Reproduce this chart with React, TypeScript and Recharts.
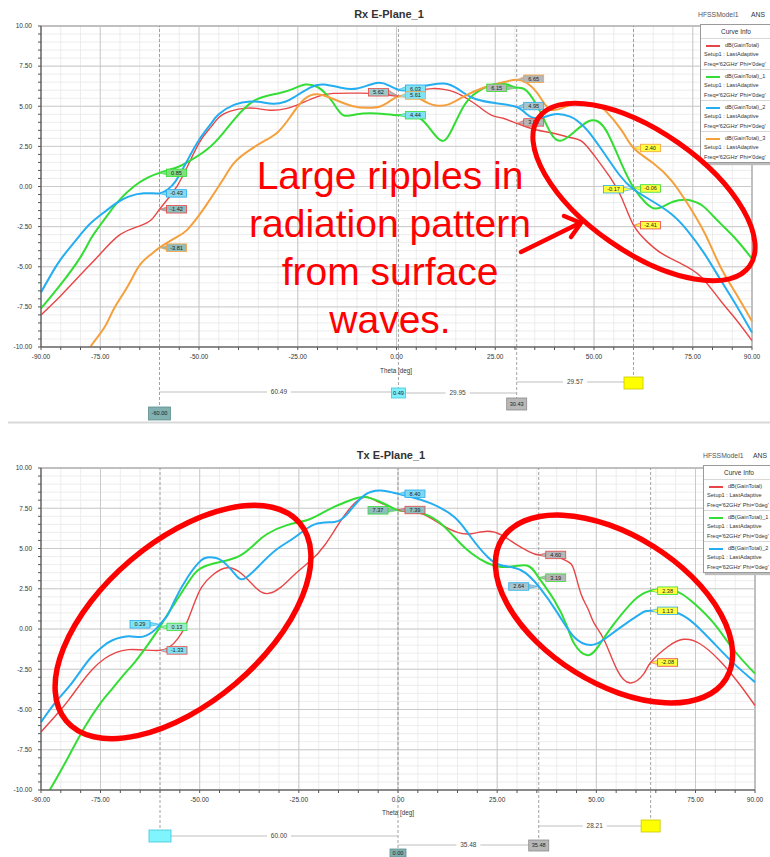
import React from 'react';
import {
  LineChart,
  Line,
  XAxis,
  YAxis,
  CartesianGrid,
  ReferenceLine,
  ReferenceDot,
  ReferenceArea,
  Legend,
} from 'recharts';

const FONT = '"Liberation Sans", Arial, Helvetica, sans-serif';

// ---------- axis ticks ----------
const thetaTicks = [-90, -85, -80, -75, -70, -65, -60, -55, -50, -45, -40, -35, -30, -25, -20, -15, -10, -5, 0, 5, 10, 15, 20, 25, 30, 35, 40, 45, 50, 55, 60, 65, 70, 75, 80, 85, 90];
const thetaTickLabels = [-90, -75, -50, -25, 0, 25, 50, 75, 90];
const thetaMajorGrid = [-75, -50, -25, 0, 25, 50, 75];
const gainTicks = [-10, -9.5, -9, -8.5, -8, -7.5, -7, -6.5, -6, -5.5, -5, -4.5, -4, -3.5, -3, -2.5, -2, -1.5, -1, -0.5, 0, 0.5, 1, 1.5, 2, 2.5, 3, 3.5, 4, 4.5, 5, 5.5, 6, 6.5, 7, 7.5, 8, 8.5, 9, 9.5, 10];
const gainTickLabels = [-10, -7.5, -5, -2.5, 0, 2.5, 5, 7.5, 10];
const gainMajorGrid = [-7.5, -5, -2.5, 0, 2.5, 5, 7.5];

// ---------- series names ----------
const rxNames = ['dB(GainTotal)', 'dB(GainTotal)_1', 'dB(GainTotal)_2', 'dB(GainTotal)_3'];
const txNames = ['dB(GainTotal)', 'dB(GainTotal)_1', 'dB(GainTotal)_2'];

// ---------- Rx E-Plane data ----------
const rxRedTheta = [-90, -85, -80, -75, -70, -65, -62, -60, -57, -54, -50, -47, -45, -42, -38, -35, -32, -28, -24, -20, -16, -10, -5, 0.49, 3, 6, 9, 12, 15, 18, 21, 24, 27, 30.43, 35, 40, 44, 47, 50, 54, 57, 60, 63.5, 67, 72, 77, 82, 86, 90];
const rxRedGain = [-8.0, -6.8, -5.5, -4.2, -3.0, -2.45, -2.05, -1.42, -0.5, 0.7, 2.7, 3.7, 4.3, 4.7, 4.88, 4.85, 4.75, 4.85, 5.2, 5.6, 5.8, 5.82, 5.78, 5.62, 5.8, 6.0, 6.1, 6.05, 5.85, 5.45, 4.95, 4.45, 4.25, 3.93, 3.55, 3.3, 3.05, 2.8, 1.95, 0.6, -0.7, -2.41, -3.45, -4.15, -4.8, -5.6, -7.1, -8.3, -9.6];

const rxGreenTheta = [-90, -85, -80, -77.5, -75, -72, -70, -66.5, -63, -60, -56, -53, -48, -44, -41, -36, -30, -26, -23, -20, -18, -16, -13.5, -10, -5, 0.49, 5, 8, 11, 13.5, 17, 20.5, 24.5, 28, 30.43, 33, 36.5, 39, 41.5, 45, 48.5, 51, 53.5, 57, 60, 63, 65, 67, 70, 73.5, 76, 78, 82, 86, 90];
const rxGreenGain = [-7.6, -6.1, -4.4, -3.3, -2.4, -1.4, -0.8, 0, 0.55, 0.85, 1.15, 1.5, 2.3, 3.3, 4.2, 5.35, 5.8, 6.1, 6.35, 6.2, 5.8, 5.2, 4.45, 4.5, 4.55, 4.44, 4.38, 3.75, 2.9, 3.3, 5.0, 5.9, 6.35, 6.35, 6.15, 5.95, 4.6, 3.35, 2.85, 3.4, 4.05, 4.05, 3.3, 1.4, -0.06, -1.0, -1.35, -1.3, -0.95, -0.83, -1.0, -1.3, -2.3, -3.3, -4.5];

const rxCyanTheta = [-90, -86, -83, -80, -77.5, -74, -71, -68, -64, -60, -58, -56, -53, -50, -47, -45, -41, -37, -34, -31, -28, -26, -22, -18.5, -14, -10, -5, -2, 0.49, 3, 6, 12, 16, 20, 25, 30.43, 33, 36, 40, 44, 46, 48.5, 52.5, 56.5, 60, 65, 69.5, 73.5, 78, 82, 86, 90];
const rxCyanGain = [-6.6, -4.9, -3.9, -3.0, -2.3, -1.6, -1.05, -0.65, -0.42, -0.43, -0.2, 0.3, 1.6, 2.9, 3.9, 4.5, 5.1, 5.3, 5.25, 5.15, 5.3, 5.55, 6.15, 6.35, 6.15, 6.1, 6.45, 6.3, 6.03, 6.0, 6.2, 6.42, 6.0, 5.45, 5.2, 4.95, 4.5, 4.25, 4.5, 4.35, 4.05, 3.45, 2.1, 0.7, -0.17, -0.95, -1.7, -2.7, -4.2, -5.8, -7.4, -9.1];

const rxOrangeTheta = [-90, -80, -77.5, -74, -71.5, -68, -65, -62, -60, -56, -53, -50, -48, -44, -41, -37, -33, -30, -27, -23.5, -20, -16, -11, -7, -4, -1.5, 0.49, 3, 5, 8, 10, 13, 17, 22, 27, 30.43, 33, 36, 39, 43, 47, 51, 53, 57, 60, 65, 69.5, 73.5, 78, 82, 86, 90];
const rxOrangeGain = [-15.5, -11.3, -10.0, -8.8, -7.6, -6.2, -4.9, -4.2, -3.81, -3.2, -2.7, -1.8, -1.1, 0.4, 1.5, 2.3, 2.9, 3.4, 4.3, 5.4, 5.75, 5.45, 5.0, 4.9, 5.0, 5.35, 5.61, 5.65, 5.55, 5.2, 5.05, 5.1, 5.6, 6.15, 6.5, 6.65, 6.45, 5.7, 4.8, 5.0, 5.2, 5.0, 4.7, 3.5, 2.4, 1.45, 0.4, -1.0, -2.9, -5.0, -6.7, -8.4];

// ---------- Tx E-Plane data ----------
const txRedTheta = [-90, -86, -83, -80, -77, -74, -71, -68, -64, -60, -57.5, -55.5, -53.5, -51.5, -49.5, -46.5, -43, -39.5, -36, -33, -29.5, -26, -22, -18.5, -14.5, -11, -8, -5, -2, 0, 3, 6.6, 10.8, 15, 18.5, 22.5, 26, 29.5, 33, 35.48, 39, 42.7, 44.4, 46.1, 47.8, 49.5, 52, 55.3, 58.7, 62, 63.69, 68, 72, 76, 81, 86, 90];
const txRedGain = [-6.4, -5.3, -4.4, -3.4, -2.5, -1.85, -1.45, -1.28, -1.3, -1.33, -1.1, -0.6, 0.25, 1.5, 2.6, 3.4, 3.8, 3.45, 2.6, 2.2, 2.6, 3.4, 4.25, 5.2, 6.7, 7.8, 8.2, 7.9, 7.6, 7.39, 7.3, 7.1, 6.5, 6.0, 5.92, 6.07, 5.85, 5.3, 4.8, 4.6, 4.55, 4.2, 3.65, 2.2, 1.3, 0.33, -0.7, -2.57, -3.35, -2.77, -2.08, -1.1, -0.64, -0.9, -1.94, -3.4, -4.75];

const txGreenTheta = [-90, -87.8, -83, -79, -75, -72, -69, -66.5, -63, -60, -58, -54.7, -51.3, -48, -43, -39.5, -36, -33, -28, -23, -19.5, -16, -12, -8.5, -5, -2, 0, 3, 6.6, 10.8, 15, 18.5, 22.5, 27.5, 32.5, 35.48, 39.4, 42.7, 44.4, 47.8, 51, 54.5, 59.5, 63.69, 69.6, 74.7, 79.7, 84.7, 90];
const txGreenGain = [-10.8, -10, -7.9, -6.1, -4.6, -3.7, -2.8, -2.1, -0.95, 0.13, 0.95, 2.2, 3.44, 3.96, 4.27, 4.6, 5.3, 5.9, 6.45, 6.75, 7.15, 7.6, 8.0, 8.2, 7.95, 7.6, 7.37, 7.3, 7.15, 6.55, 5.5, 4.7, 4.1, 3.85, 3.95, 3.19, 1.78, 0.12, -0.9, -1.63, -0.9, 0.33, 1.78, 2.38, 2.4, 1.58, 0.33, -1.32, -2.77];

const txCyanTheta = [-90, -86.5, -83, -80, -77.3, -74.5, -72, -68, -65, -62, -60, -58, -56.3, -53, -49.6, -47.5, -44.6, -41.2, -38.7, -34.5, -30.3, -26, -21, -16, -12.7, -8.5, -4.3, -1.8, 0, 4, 8.3, 14.2, 18.4, 22.6, 26, 31, 35.48, 40.2, 44.4, 48.6, 52, 56.2, 61.2, 63.69, 69.6, 74.7, 79.7, 84.7, 90];
const txCyanGain = [-5.78, -4.6, -3.6, -2.6, -1.74, -1.1, -0.7, -0.45, -0.5, -0.2, 0.29, 0.9, 1.78, 3.23, 4.27, 4.45, 4.27, 3.44, 3.13, 4.06, 5.0, 5.7, 6.5, 6.65, 7.17, 8.3, 8.6, 8.5, 8.4, 8.15, 7.8, 6.96, 5.7, 4.47, 3.96, 3.65, 2.64, 1.0, -0.5, -1.0, -0.64, 0.12, 0.95, 1.13, 1.06, 0.33, -0.9, -2.15, -3.3];

// ---------- markers ----------
const rxMarkerThetas = [-60, 0.49, 30.43, 60];
const rxMarkerBoxText = ['-60.00', '0.49', '30.43', ''];
const rxDeltaText = ['60.49', '29.95', '29.57'];
const txMarkerThetas = [-60, 0, 35.48, 63.69];
const txMarkerBoxText = ['', '0.00', '35.48', ''];
const txDeltaText = ['60.00', '35.48', '28.21'];

type Readout = { theta: number; series: number; value: number };
const rxReadouts: Readout[] = [
  { theta: -60, series: 1, value: 0.85 },
  { theta: -60, series: 2, value: -0.43 },
  { theta: -60, series: 0, value: -1.42 },
  { theta: -60, series: 3, value: -3.81 },
  { theta: 0.49, series: 0, value: 5.62 },
  { theta: 0.49, series: 2, value: 6.03 },
  { theta: 0.49, series: 3, value: 5.61 },
  { theta: 0.49, series: 1, value: 4.44 },
  { theta: 30.43, series: 3, value: 6.65 },
  { theta: 30.43, series: 1, value: 6.15 },
  { theta: 30.43, series: 2, value: 4.95 },
  { theta: 30.43, series: 0, value: 3.93 },
  { theta: 60, series: 3, value: 2.4 },
  { theta: 60, series: 2, value: -0.17 },
  { theta: 60, series: 1, value: -0.06 },
  { theta: 60, series: 0, value: -2.41 },
];
const txReadouts: Readout[] = [
  { theta: -60, series: 2, value: 0.29 },
  { theta: -60, series: 1, value: 0.13 },
  { theta: -60, series: 0, value: -1.33 },
  { theta: 0, series: 1, value: 7.37 },
  { theta: 0, series: 0, value: 7.39 },
  { theta: 0, series: 2, value: 8.4 },
  { theta: 35.48, series: 0, value: 4.6 },
  { theta: 35.48, series: 1, value: 3.19 },
  { theta: 35.48, series: 2, value: 2.64 },
  { theta: 63.69, series: 1, value: 2.38 },
  { theta: 63.69, series: 2, value: 1.13 },
  { theta: 63.69, series: 0, value: -2.08 },
];

const calloutLines = ['Large ripples in', 'radiation pattern', 'from surface', 'waves.'];

// ---------- styles (kept apart from the data) ----------
const RX_COLORS = ['#e84646', '#33dd33', '#24adf0', '#f5a03c'];
const TX_COLORS = ['#e84646', '#33dd33', '#24adf0'];
const RX_WIDTHS = [1.4, 2, 2, 2];
const TX_WIDTHS = [1.4, 2, 2];

type TagStyle = { side: 'l' | 'r'; dy: number; fill: string };
const TEAL = '#8fbcbc';
const CYANF = '#80e2f2';
const GRAYF = '#b6b6b6';
const YEL = '#ffff40';
const rxTagStyles: TagStyle[] = [
  { side: 'r', dy: 0, fill: '#80e080' },
  { side: 'r', dy: 0, fill: '#8ad8ec' },
  { side: 'r', dy: 0, fill: TEAL },
  { side: 'r', dy: 0, fill: TEAL },
  { side: 'l', dy: -4, fill: '#9cc8c8' },
  { side: 'r', dy: -1, fill: CYANF },
  { side: 'r', dy: -1, fill: CYANF },
  { side: 'r', dy: 0, fill: CYANF },
  { side: 'r', dy: -1, fill: GRAYF },
  { side: 'l', dy: 0, fill: GRAYF },
  { side: 'r', dy: -1, fill: '#aac4cc' },
  { side: 'r', dy: -1, fill: GRAYF },
  { side: 'r', dy: 0, fill: YEL },
  { side: 'l', dy: 0, fill: YEL },
  { side: 'r', dy: 1, fill: YEL },
  { side: 'r', dy: 0, fill: YEL },
];
const txTagStyles: TagStyle[] = [
  { side: 'l', dy: 0, fill: CYANF },
  { side: 'r', dy: 0, fill: '#9ee8cc' },
  { side: 'r', dy: 0, fill: CYANF },
  { side: 'l', dy: 0, fill: TEAL },
  { side: 'r', dy: 0, fill: TEAL },
  { side: 'r', dy: 0, fill: '#80d8f0' },
  { side: 'r', dy: 0, fill: GRAYF },
  { side: 'r', dy: 0, fill: GRAYF },
  { side: 'l', dy: 0, fill: '#aac4cc' },
  { side: 'r', dy: 0, fill: YEL },
  { side: 'r', dy: 0, fill: YEL },
  { side: 'r', dy: 0, fill: YEL },
];

const zip = (theta: number[], gain: number[]) => theta.map((t, i) => ({ theta: t, gain: gain[i] }));

const rxData = [zip(rxRedTheta, rxRedGain), zip(rxGreenTheta, rxGreenGain), zip(rxCyanTheta, rxCyanGain), zip(rxOrangeTheta, rxOrangeGain)];
const txData = [zip(txRedTheta, txRedGain), zip(txGreenTheta, txGreenGain), zip(txCyanTheta, txCyanGain)];

// ---------- ticks ----------
const renderXTick = (props: any) => {
  const { x, y, payload } = props;
  if (!thetaTickLabels.includes(payload.value)) return <g />;
  return (
    <text x={x} y={y} dy="0.71em" textAnchor="middle" fontSize={6.5} fill="#333" fontFamily={FONT}>
      {Number(payload.value).toFixed(2)}
    </text>
  );
};
const renderYTick = (props: any) => {
  const { x, y, payload } = props;
  if (!gainTickLabels.includes(payload.value)) return <g />;
  return (
    <text x={x} y={y} dy="0.35em" textAnchor="end" fontSize={6.5} fill="#333" fontFamily={FONT}>
      {Number(payload.value).toFixed(2)}
    </text>
  );
};

function MarkerTag(props: { cx: number; cy: number; side: 'l' | 'r'; dy: number; fill: string; border: string; text: string }) {
  const { cx, cy, side, dy, fill, border, text } = props;
  if (cx == null || cy == null) return <g />;
  const w = 20;
  const h = 7.5;
  const bx = side === 'r' ? cx + 7 : cx - 10 - w;
  const by = cy + dy - h / 2;
  const edge = side === 'r' ? bx : bx + w;
  const my = by + h / 2;
  return (
    <g>
      <polygon points={`${cx},${cy} ${edge},${my - 2} ${edge},${my + 2}`} fill={fill} stroke={border} strokeWidth={0.6} />
      <rect x={bx} y={by} width={w} height={h} fill={fill} stroke={border} strokeWidth={0.8} />
      <text x={bx + w / 2} y={my} dy="0.35em" textAnchor="middle" fontSize={5.6} fill="#222" fontFamily={FONT}>
        {text}
      </text>
    </g>
  );
}

function CurveInfo({ payload, names, colors }: any) {
  const items = (payload || []).map((it: any) => {
    const idx = names.indexOf(it.value);
    return { name: it.value, color: idx >= 0 ? colors[idx] : it.color, idx };
  });
  items.sort((a: any, b: any) => a.idx - b.idx);
  return (
    <div
      style={{
        width: 95,
        background: '#fff',
        border: '1px solid #9a9a9a',
        boxShadow: '2px 2px 1px #bdbdbd',
        fontFamily: FONT,
        color: '#333',
        boxSizing: 'border-box',
      }}
    >
      <div style={{ height: 13, lineHeight: '13px', fontSize: 6.5, textAlign: 'center', width: 70 }}>Curve Info</div>
      {items.map((it: any, i: number) => (
        <div
          key={i}
          style={{
            height: 31,
            boxSizing: 'border-box',
            borderTop: '1px solid #d8d8d8',
            paddingTop: 2,
            paddingLeft: 3,
            fontSize: 5.6,
            lineHeight: '9.3px',
            whiteSpace: 'nowrap',
          }}
        >
          <div style={{ display: 'flex', alignItems: 'center', height: 9.3 }}>
            <span style={{ display: 'inline-block', width: 14, height: 1.8, background: it.color, marginLeft: 2, marginRight: 5 }} />
            <span>{it.name}</span>
          </div>
          <div>Setup1 : LastAdaptive</div>
          <div>Freq='62GHz' Phi='0deg'</div>
        </div>
      ))}
    </div>
  );
}

type PanelProps = {
  top: number;
  height: number;
  marginTop: number;
  marginRight: number;
  xAxisHeight: number;
  names: string[];
  colors: string[];
  widths: number[];
  data: { theta: number; gain: number }[][];
  markerThetas: number[];
  readouts: Readout[];
  tagStyles: TagStyle[];
  legendLeft: number;
  legendTop: number;
};

function Panel(p: PanelProps) {
  return (
    <div style={{ position: 'absolute', left: 0, top: p.top, width: 770, height: p.height }}>
      <LineChart width={770} height={p.height} margin={{ top: p.marginTop, right: p.marginRight, bottom: 0, left: 0 }}>
        <CartesianGrid stroke="#e8e8e8" strokeWidth={0.8} />
        {thetaMajorGrid.map((t) => (
          <ReferenceLine key={'vx' + t} x={t} stroke="#c6c6c6" strokeWidth={0.9} />
        ))}
        {gainMajorGrid.map((g) => (
          <ReferenceLine key={'hy' + g} y={g} stroke="#c6c6c6" strokeWidth={0.9} />
        ))}
        <XAxis
          dataKey="theta"
          type="number"
          domain={[-90, 90]}
          ticks={thetaTicks}
          interval={0}
          tick={renderXTick}
          tickSize={3}
          tickMargin={4}
          height={p.xAxisHeight}
          axisLine={{ stroke: '#555' }}
          tickLine={{ stroke: '#555' }}
        />
        <YAxis
          type="number"
          domain={[-10, 10]}
          ticks={gainTicks}
          interval={0}
          allowDataOverflow
          tick={renderYTick}
          tickSize={3}
          tickMargin={6}
          width={41}
          axisLine={{ stroke: '#555' }}
          tickLine={{ stroke: '#555' }}
        />
        <ReferenceArea x1={-90} x2={90} y1={-10} y2={10} fill="none" fillOpacity={0} stroke="#8a8a8a" strokeWidth={1} />
        {p.markerThetas.map((t) => (
          <ReferenceLine key={'m' + t} x={t} stroke="#8c8c8c" strokeDasharray="3 2" strokeWidth={0.8} />
        ))}
        {p.data.map((d, i) => (
          <Line
            key={p.names[i]}
            data={d}
            dataKey="gain"
            name={p.names[i]}
            type="natural"
            stroke={p.colors[i]}
            strokeWidth={p.widths[i]}
            dot={false}
            activeDot={false}
            isAnimationActive={false}
          />
        ))}
        {p.readouts.map((r, i) => {
          const st = p.tagStyles[i];
          return (
            <ReferenceDot
              key={'r' + i}
              x={r.theta}
              y={r.value}
              r={0}
              shape={(sp: any) => (
                <MarkerTag cx={sp.cx} cy={sp.cy} side={st.side} dy={st.dy} fill={st.fill} border={p.colors[r.series]} text={r.value.toFixed(2)} />
              )}
            />
          );
        })}
        <Legend
          layout="horizontal"
          verticalAlign="middle"
          align="center"
          wrapperStyle={{ left: p.legendLeft, top: p.legendTop, right: 'auto', bottom: 'auto', width: 95, height: 'auto' }}
          content={(lp: any) => <CurveInfo payload={lp.payload} names={p.names} colors={p.colors} />}
        />
      </LineChart>
    </div>
  );
}

// ---------- overlay geometry (page pixels) ----------
const xTop = (t: number) => 41 + ((t + 90) * 711) / 180;
const xBot = (t: number) => 41 + ((t + 90) * 714) / 180;

type BoxLayout = { y: number; h: number; w: number; fill: string; stroke: string };
type DeltaLayout = { from: number; to: number; y: number };

const rxBoxLayout: BoxLayout[] = [
  { y: 407, h: 13, w: 22, fill: '#80b0b0', stroke: '#5f8f8f' },
  { y: 388, h: 10, w: 14, fill: '#80f0ff', stroke: '#40c8d8' },
  { y: 398, h: 12, w: 20, fill: '#b8b8b8', stroke: '#8a8a8a' },
  { y: 377, h: 12, w: 19, fill: '#ffff00', stroke: '#c8c800' },
];
const rxDeltaLayout: DeltaLayout[] = [
  { from: 0, to: 1, y: 392 },
  { from: 1, to: 2, y: 393 },
  { from: 2, to: 3, y: 382 },
];
const txBoxLayout: BoxLayout[] = [
  { y: 830, h: 12, w: 22, fill: '#80f4ff', stroke: '#40c8d8' },
  { y: 849, h: 8, w: 16, fill: '#80b0b0', stroke: '#5f8f8f' },
  { y: 840, h: 11, w: 20, fill: '#b8b8b8', stroke: '#8a8a8a' },
  { y: 820, h: 12, w: 19, fill: '#ffff00', stroke: '#c8c800' },
];
const txDeltaLayout: DeltaLayout[] = [
  { from: 0, to: 1, y: 836 },
  { from: 1, to: 2, y: 845 },
  { from: 2, to: 3, y: 826 },
];

function MarkerBars(props: {
  xOf: (t: number) => number;
  thetas: number[];
  plotBottom: number;
  boxes: BoxLayout[];
  boxText: string[];
  deltas: DeltaLayout[];
  deltaText: string[];
}) {
  const { xOf, thetas, plotBottom, boxes, boxText, deltas, deltaText } = props;
  return (
    <g>
      {thetas.map((t, i) => (
        <line key={'ext' + i} x1={xOf(t)} x2={xOf(t)} y1={plotBottom} y2={boxes[i].y} stroke="#8c8c8c" strokeDasharray="3 2" strokeWidth={0.8} />
      ))}
      {deltas.map((d, i) => {
        const x1 = xOf(thetas[d.from]);
        const x2 = xOf(thetas[d.to]);
        const mx = (x1 + x2) / 2;
        return (
          <g key={'d' + i}>
            <line x1={x1} x2={x2} y1={d.y} y2={d.y} stroke="#b8b8b8" strokeWidth={0.9} />
            <rect x={mx - 12} y={d.y - 4} width={24} height={8} fill="#fff" />
            <text x={mx} y={d.y} dy="0.35em" textAnchor="middle" fontSize={6.5} fill="#444">
              {deltaText[i]}
            </text>
          </g>
        );
      })}
      {thetas.map((t, i) => {
        const b = boxes[i];
        const cx = xOf(t);
        return (
          <g key={'b' + i}>
            <rect x={cx - b.w / 2} y={b.y} width={b.w} height={b.h} fill={b.fill} stroke={b.stroke} strokeWidth={0.8} />
            {boxText[i] ? (
              <text x={cx} y={b.y + b.h / 2} dy="0.35em" textAnchor="middle" fontSize={5.6} fill="#222">
                {boxText[i]}
              </text>
            ) : null}
          </g>
        );
      })}
    </g>
  );
}

function Overlay() {
  return (
    <svg width={770} height={857} style={{ position: 'absolute', left: 0, top: 0, pointerEvents: 'none' }} fontFamily={FONT}>
      {/* headers */}
      <text x={389} y={18} textAnchor="middle" fontSize={11} fontWeight="bold" fill="#333">Rx E-Plane_1</text>
      <text x={698} y={16.5} fontSize={6.8} fill="#555">HFSSModel1</text>
      <text x={751} y={16.5} fontSize={6.8} fill="#333">ANS</text>
      <text x={396} y={373} textAnchor="middle" fontSize={6.3} fill="#333">Theta [deg]</text>

      <line x1={8} x2={770} y1={422.5} y2={422.5} stroke="#d9d9d9" strokeWidth={2} />
      <text x={391} y={459} textAnchor="middle" fontSize={11} fontWeight="bold" fill="#333">Tx E-Plane_1</text>
      <text x={703} y={457.5} fontSize={6.8} fill="#555">HFSSModel1</text>
      <text x={753} y={457.5} fontSize={6.8} fill="#333">ANS</text>
      <text x={398} y={815} textAnchor="middle" fontSize={6.3} fill="#333">Theta [deg]</text>

      <MarkerBars xOf={xTop} thetas={rxMarkerThetas} plotBottom={347} boxes={rxBoxLayout} boxText={rxMarkerBoxText} deltas={rxDeltaLayout} deltaText={rxDeltaText} />
      <MarkerBars xOf={xBot} thetas={txMarkerThetas} plotBottom={790} boxes={txBoxLayout} boxText={txMarkerBoxText} deltas={txDeltaLayout} deltaText={txDeltaText} />

      {/* callout */}
      {calloutLines.map((s, i) => (
        <text key={'c' + i} x={390} y={189 + i * 48} textAnchor="middle" fontSize={39} fill="#ff0000">
          {s}
        </text>
      ))}
      <g stroke="#ff0000" strokeWidth={4.5} fill="none" strokeLinecap="round" strokeLinejoin="round">
        <line x1={521} y1={252} x2={580} y2={223} />
        <polyline points="564,216 581,223 571,237" />
      </g>

      {/* highlight ellipses */}
      <ellipse cx={644} cy={192} rx={129} ry={60} transform="rotate(35 644 192)" fill="none" stroke="#ff0000" strokeWidth={5} />
      <ellipse cx={183} cy={622} rx={153} ry={81} transform="rotate(-40.3 183 622)" fill="none" stroke="#ff0000" strokeWidth={5.5} />
      <ellipse cx={614} cy={609} rx={132} ry={74} transform="rotate(32 614 609)" fill="none" stroke="#ff0000" strokeWidth={5.5} />
    </svg>
  );
}

export default function App() {
  return (
    <div style={{ position: 'absolute', left: 0, top: 0, width: 770, height: 857, overflow: 'hidden', background: '#fff' }}>
      <Panel
        top={0}
        height={420}
        marginTop={26}
        marginRight={18}
        xAxisHeight={73}
        names={rxNames}
        colors={RX_COLORS}
        widths={RX_WIDTHS}
        data={rxData}
        markerThetas={rxMarkerThetas}
        readouts={rxReadouts}
        tagStyles={rxTagStyles}
        legendLeft={700}
        legendTop={24}
      />
      <Panel
        top={422}
        height={435}
        marginTop={46}
        marginRight={15}
        xAxisHeight={67}
        names={txNames}
        colors={TX_COLORS}
        widths={TX_WIDTHS}
        data={txData}
        markerThetas={txMarkerThetas}
        readouts={txReadouts}
        tagStyles={txTagStyles}
        legendLeft={703}
        legendTop={43}
      />
      <Overlay />
    </div>
  );
}
